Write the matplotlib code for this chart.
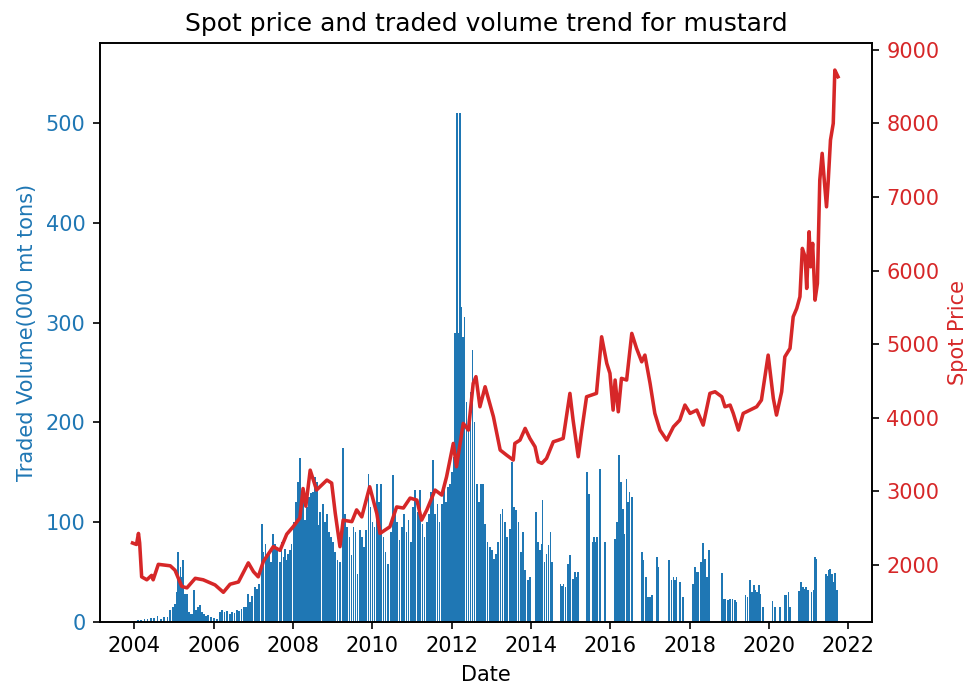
import numpy as np
import pandas as pd
import matplotlib
matplotlib.use("Agg")
import matplotlib.pyplot as plt

# ---- data (decimal years) ----
price_t = [2003.95, 2004.05, 2004.10, 2004.13, 2004.18, 2004.31, 2004.43, 2004.47, 2004.60, 2004.90,
           2005.02, 2005.19, 2005.32, 2005.53, 2005.73, 2006.03, 2006.24, 2006.41, 2006.62, 2006.87,
           2007.00, 2007.12, 2007.25, 2007.50, 2007.67, 2007.84, 2008.00, 2008.17, 2008.25, 2008.32,
           2008.43, 2008.59, 2008.85, 2008.97, 2009.06, 2009.18, 2009.26, 2009.48, 2009.60, 2009.73,
           2009.93, 2010.11, 2010.19, 2010.44, 2010.61, 2010.78, 2010.95, 2011.12, 2011.24, 2011.37,
           2011.58, 2011.75, 2011.87, 2012.04, 2012.12, 2012.29, 2012.42, 2012.54, 2012.61, 2012.71,
           2012.84, 2013.05, 2013.22, 2013.38, 2013.55, 2013.59, 2013.72, 2013.85, 2013.97, 2014.10,
           2014.18, 2014.27, 2014.39, 2014.56, 2014.69, 2014.81, 2014.98, 2015.06, 2015.19, 2015.28,
           2015.40, 2015.65, 2015.78, 2015.91, 2015.99, 2016.07, 2016.12, 2016.20, 2016.28, 2016.41,
           2016.54, 2016.66, 2016.79, 2016.87, 2017.00, 2017.12, 2017.25, 2017.42, 2017.59, 2017.75,
           2017.88, 2018.01, 2018.18, 2018.34, 2018.51, 2018.64, 2018.81, 2018.89, 2019.02, 2019.10,
           2019.23, 2019.35, 2019.52, 2019.69, 2019.81, 2019.98, 2020.11, 2020.19, 2020.32, 2020.40,
           2020.53, 2020.61, 2020.70, 2020.78, 2020.84, 2020.91, 2020.95, 2021.01, 2021.05, 2021.10,
           2021.16, 2021.22, 2021.28, 2021.34, 2021.40, 2021.45, 2021.49, 2021.55, 2021.62, 2021.66,
           2021.74]
price_v = [2300, 2280, 2430, 2300, 1840, 1800, 1860, 1800, 2010, 1990,
           1930, 1710, 1690, 1820, 1800, 1730, 1630, 1740, 1770, 2030,
           1910, 1840, 2050, 2250, 2200, 2420, 2520, 2640, 3040, 2800,
           3290, 3020, 3155, 3114, 2707, 2250, 2610, 2590, 2750, 2655,
           3064, 2700, 2430, 2520, 2790, 2775, 2910, 2883, 2611, 2747,
           3019, 2951, 3200, 3653, 3336, 3925, 3834, 4469, 4560, 4151,
           4423, 4015, 3563, 3495, 3427, 3653, 3698, 3857, 3721, 3607,
           3404, 3382, 3449, 3675, 3698, 3721, 4333, 3970, 3472, 3834,
           4287, 4333, 5102, 4741, 4605, 4106, 4514, 4083, 4537, 4514,
           5148, 4944, 4762, 4853, 4469, 4061, 3834, 3698, 3879, 3970,
           4174, 4061, 4106, 3902, 4333, 4355, 4287, 4151, 4174, 4061,
           3834, 4061, 4106, 4151, 4242, 4853, 4265, 4038, 4355, 4830,
           4944, 5374, 5488, 5646, 6303, 6189, 5759, 6529, 6053, 6371,
           5600, 5827, 7231, 7594, 7186, 6868, 7186, 7775, 8001, 8726,
           8635]

vol_t = [2004.00, 2004.08, 2004.17, 2004.25, 2004.33, 2004.42, 2004.50, 2004.58, 2004.67, 2004.75,
         2004.83, 2004.90, 2004.96, 2005.02, 2005.07, 2005.10, 2005.13, 2005.16, 2005.20, 2005.23,
         2005.27, 2005.32, 2005.37, 2005.42, 2005.46, 2005.50, 2005.55, 2005.60, 2005.65, 2005.70,
         2005.75, 2005.80, 2005.85, 2005.92, 2006.00, 2006.08, 2006.16, 2006.21, 2006.27, 2006.33,
         2006.40, 2006.46, 2006.52, 2006.58, 2006.64, 2006.70, 2006.76, 2006.81, 2006.87, 2006.92,
         2006.97, 2007.04, 2007.09, 2007.14, 2007.21, 2007.25, 2007.30, 2007.34, 2007.39, 2007.44,
         2007.50, 2007.55, 2007.60, 2007.66, 2007.71, 2007.76, 2007.79, 2007.84, 2007.88, 2007.92,
         2007.96, 2008.02, 2008.07, 2008.12, 2008.17, 2008.21, 2008.24, 2008.30, 2008.35, 2008.40,
         2008.45, 2008.50, 2008.55, 2008.60, 2008.63, 2008.68, 2008.75, 2008.80, 2008.85, 2008.90,
         2008.95, 2009.00, 2009.06, 2009.12, 2009.18, 2009.26, 2009.31, 2009.36, 2009.42, 2009.47,
         2009.52, 2009.57, 2009.62, 2009.68, 2009.73, 2009.78, 2009.83, 2009.90, 2009.95, 2010.00,
         2010.05, 2010.11, 2010.16, 2010.22, 2010.28, 2010.33, 2010.40, 2010.46, 2010.52, 2010.57,
         2010.62, 2010.68, 2010.74, 2010.80, 2010.86, 2010.91, 2010.97, 2011.03, 2011.08, 2011.14,
         2011.20, 2011.26, 2011.31, 2011.37, 2011.43, 2011.48, 2011.53, 2011.58, 2011.64, 2011.69,
         2011.75, 2011.80, 2011.85, 2011.91, 2011.96, 2012.01, 2012.05, 2012.09, 2012.13, 2012.17,
         2012.21, 2012.24, 2012.28, 2012.32, 2012.37, 2012.42, 2012.47, 2012.52, 2012.57, 2012.63,
         2012.68, 2012.73, 2012.79, 2012.84, 2012.90, 2012.96, 2013.01, 2013.06, 2013.12, 2013.17,
         2013.23, 2013.28, 2013.34, 2013.40, 2013.47, 2013.52, 2013.57, 2013.62, 2013.68, 2013.74,
         2013.79, 2013.85, 2013.93, 2013.98, 2014.12, 2014.17, 2014.22, 2014.26, 2014.29, 2014.34,
         2014.39, 2014.44, 2014.49, 2014.52, 2014.74, 2014.78, 2014.82, 2014.87, 2014.94, 2014.98,
         2015.06, 2015.11, 2015.16, 2015.19, 2015.42, 2015.46, 2015.55, 2015.59, 2015.63, 2015.67,
         2015.74, 2015.86, 2016.12, 2016.17, 2016.22, 2016.27, 2016.31, 2016.35, 2016.41, 2016.45,
         2016.48, 2016.54, 2016.79, 2016.83, 2016.90, 2016.95, 2017.00, 2017.05, 2017.17, 2017.21,
         2017.48, 2017.54, 2017.59, 2017.63, 2017.67, 2017.75, 2017.84, 2018.08, 2018.13, 2018.18,
         2018.22, 2018.28, 2018.33, 2018.38, 2018.44, 2018.49, 2018.81, 2018.85, 2018.90, 2018.96,
         2019.02, 2019.08, 2019.14, 2019.18, 2019.41, 2019.46, 2019.52, 2019.58, 2019.62, 2019.66,
         2019.69, 2019.75, 2019.79, 2019.85, 2020.09, 2020.15, 2020.28, 2020.40, 2020.44, 2020.49,
         2020.53, 2020.76, 2020.81, 2020.86, 2020.90, 2020.94, 2020.98, 2021.07, 2021.12, 2021.16,
         2021.20, 2021.44, 2021.47, 2021.50, 2021.54, 2021.58, 2021.62, 2021.66, 2021.71]
vol_v = [1, 2, 2, 3, 3, 4, 4, 6, 3, 5,
         5, 12, 15, 18, 30, 70, 40, 55, 45, 62,
         28, 28, 10, 8, 8, 32, 12, 15, 17, 10,
         8, 6, 7, 5, 4, 3, 10, 12, 10, 11,
         8, 10, 9, 12, 11, 13, 15, 15, 28, 20,
         26, 35, 33, 38, 98, 70, 78, 65, 67, 60,
         88, 78, 75, 60, 80, 65, 73, 62, 68, 72,
         78, 100, 120, 140, 164, 120, 134, 102, 115, 125,
         129, 130, 145, 140, 97, 110, 118, 100, 108, 90,
         85, 80, 70, 62, 60, 174, 108, 95, 85, 67,
         95, 90, 48, 92, 85, 75, 92, 148, 115, 100,
         95, 138, 120, 138, 85, 70, 58, 90, 147, 108,
         100, 82, 95, 108, 90, 102, 80, 115, 132, 110,
         132, 98, 85, 100, 108, 130, 162, 108, 118, 100,
         118, 135, 120, 135, 138, 150, 165, 290, 510, 290,
         510, 316, 285, 306, 220, 200, 230, 272, 200, 138,
         120, 138, 138, 98, 80, 75, 72, 63, 68, 80,
         108, 113, 100, 85, 93, 160, 115, 112, 100, 70,
         90, 52, 42, 45, 110, 80, 72, 78, 122, 60,
         68, 77, 90, 60, 38, 36, 38, 35, 58, 67,
         43, 50, 45, 50, 150, 128, 80, 85, 80, 85,
         153, 80, 83, 100, 167, 140, 113, 88, 143, 120,
         130, 125, 70, 62, 45, 25, 25, 27, 65, 55,
         62, 42, 45, 42, 45, 40, 25, 38, 55, 50,
         50, 60, 79, 63, 45, 72, 49, 23, 23, 22,
         23, 23, 22, 20, 27, 25, 42, 30, 37, 32,
         30, 37, 28, 15, 21, 15, 15, 27, 27, 30,
         15, 31, 40, 35, 33, 35, 32, 30, 32, 65,
         63, 48, 46, 52, 53, 48, 40, 49, 32]


def to_date(years):
    years = np.asarray(years, dtype=float)
    whole = np.floor(years).astype(int)
    out = []
    for w, y in zip(whole, years):
        start = pd.Timestamp(year=int(w), month=1, day=1)
        end = pd.Timestamp(year=int(w) + 1, month=1, day=1)
        out.append(start + (end - start) * (y - w))
    return pd.to_datetime(out)


price_dates = to_date(price_t)
vol_dates = to_date(vol_t)

fig = plt.figure(figsize=(6.48, 4.58), dpi=150)
ax1 = fig.add_axes([0.1029, 0.095, 0.7939, 0.842])

c1 = "tab:blue"
c2 = "tab:red"

ax1.bar(vol_dates, vol_v, width=16, color=c1)
ax1.set_xlabel("Date")
ax1.set_ylabel("Traded Volume(000 mt tons)", color=c1)
ax1.tick_params(axis="y", labelcolor=c1)
ax1.set_ylim(0, 580)
ax1.set_xlim(to_date([2003.13])[0], to_date([2022.59])[0])

ax2 = ax1.twinx()
ax2.plot(price_dates, price_v, color=c2, linewidth=1.7)
ax2.set_ylabel("Spot Price", color=c2)
ax2.tick_params(axis="y", labelcolor=c2)
ax2.set_ylim(1230, 9090)

ax1.set_title("Spot price and traded volume trend for mustard")

fig.savefig("out.png", dpi=150)
